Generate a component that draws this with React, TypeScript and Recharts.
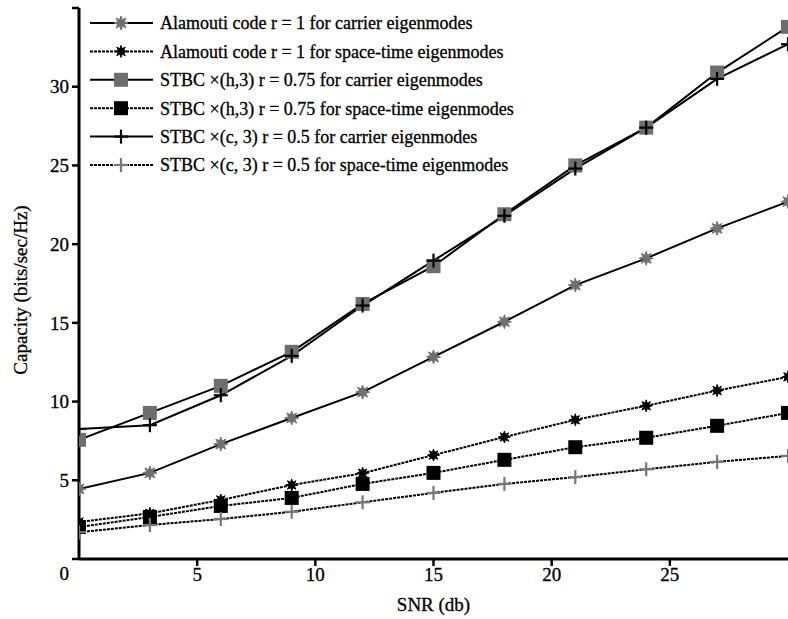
import React from 'react';
import { LineChart, Line, XAxis, YAxis, Legend } from 'recharts';

const snr = [0, 3, 6, 9, 12, 15, 18, 21, 24, 27, 30];
const alamoutiCarrier = [4.45, 5.47, 7.3, 8.96, 10.6, 12.84, 15.07, 17.4, 19.1, 21.0, 22.7];
const alamoutiST = [2.35, 2.9, 3.75, 4.7, 5.45, 6.6, 7.75, 8.84, 9.73, 10.7, 11.57];
const stbcHCarrier = [7.57, 9.28, 11.0, 13.16, 16.2, 18.6, 21.9, 25.0, 27.4, 30.9, 33.8];
const stbcHST = [2.03, 2.67, 3.37, 3.88, 4.77, 5.47, 6.3, 7.1, 7.7, 8.46, 9.28];
const stbcCCarrier = [8.26, 8.5, 10.4, 12.9, 16.1, 18.95, 21.8, 24.8, 27.4, 30.5, 32.7];
const stbcCST = [1.7, 2.16, 2.54, 3.0, 3.6, 4.2, 4.77, 5.2, 5.7, 6.17, 6.55];

const yTicks = [0, 5, 10, 15, 20, 25, 30, 35];
const xTicks = [5, 10, 15, 20, 25];

const legendLabels = [
  'Alamouti code r = 1 for carrier eigenmodes',
  'Alamouti code r = 1 for space-time eigenmodes',
  'STBC \u00d7(h,3) r = 0.75 for carrier eigenmodes',
  'STBC \u00d7(h,3) r = 0.75 for space-time eigenmodes',
  'STBC \u00d7(c, 3) r = 0.5 for carrier eigenmodes',
  'STBC \u00d7(c, 3) r = 0.5 for space-time eigenmodes',
];

const data = snr.map((s, i) => ({
  snr: s,
  a: alamoutiCarrier[i],
  b: alamoutiST[i],
  c: stbcHCarrier[i],
  d: stbcHST[i],
  e: stbcCCarrier[i],
  f: stbcCST[i],
}));

const FONT = '"Liberation Serif", "Times New Roman", serif';
const TXT = { fontFamily: FONT, fill: '#000', stroke: '#000', strokeWidth: 0.3 };

type MarkerKind = 'star' | 'square' | 'plus';

function starPoints(cx: number, cy: number, ro: number, ri: number) {
  const pts: string[] = [];
  for (let k = 0; k < 16; k++) {
    const r = k % 2 === 0 ? ro : ri;
    const ang = (Math.PI / 8) * k - Math.PI / 2;
    pts.push(`${cx + r * Math.cos(ang)},${cy + r * Math.sin(ang)}`);
  }
  return pts.join(' ');
}

function Marker({ cx, cy, kind, color, size }: { cx: number; cy: number; kind: MarkerKind; color: string; size: number }) {
  if (kind === 'star') {
    return <polygon points={starPoints(cx, cy, size / 2, size / 4.2)} fill={color} stroke={color} strokeWidth={1} />;
  }
  if (kind === 'square') {
    return <rect x={cx - size / 2} y={cy - size / 2} width={size} height={size} fill={color} />;
  }
  return (
    <g stroke={color} strokeWidth={2.2}>
      <line x1={cx - size / 2} y1={cy} x2={cx + size / 2} y2={cy} />
      <line x1={cx} y1={cy - size / 2} x2={cx} y2={cy + size / 2} />
    </g>
  );
}

const series = [
  { key: 'a', kind: 'star' as MarkerKind, color: '#707070', size: 14, dash: undefined as string | undefined },
  { key: 'b', kind: 'star' as MarkerKind, color: '#000000', size: 12, dash: '3 1' },
  { key: 'c', kind: 'square' as MarkerKind, color: '#6e6e6e', size: 14, dash: undefined },
  { key: 'd', kind: 'square' as MarkerKind, color: '#000000', size: 14, dash: '3 1' },
  { key: 'e', kind: 'plus' as MarkerKind, color: '#000000', size: 14, dash: undefined },
  { key: 'f', kind: 'plus' as MarkerKind, color: '#777777', size: 14, dash: '3 1' },
];

const makeDot = (kind: MarkerKind, color: string, size: number) => (props: any) => {
  const { cx, cy, index } = props;
  if (cx == null || cy == null) return <g key={index} />;
  return (
    <g key={index}>
      <Marker cx={cx} cy={cy} kind={kind} color={color} size={size} />
    </g>
  );
};

const LegendBox = () => (
  <svg width={520} height={180} style={{ display: 'block' }}>
    {series.map((s, i) => {
      const y = 15 + i * 28.4;
      return (
        <g key={s.key}>
          <line x1={5} y1={y} x2={68} y2={y} stroke="#000" strokeWidth={2} strokeDasharray={s.dash} />
          <Marker cx={36} cy={y} kind={s.kind} color={s.color} size={s.size} />
          <text x={75} y={y} dy="0.35em" fontSize={18} {...TXT}>
            {legendLabels[i]}
          </text>
        </g>
      );
    })}
  </svg>
);

const YTick = (props: any) => {
  const { x, y, payload } = props;
  if (payload.value === 35) return <g />;
  const shift = payload.value === 0 ? 14 : 0;
  return (
    <text x={x} y={y + shift} dy="0.35em" textAnchor="end" fontSize={19} {...TXT}>
      {payload.value}
    </text>
  );
};

const YLabel = () => (
  <text x={20} y={290} transform="rotate(-90 20 290)" textAnchor="middle" dominantBaseline="central" fontSize={19} {...TXT}>
    Capacity (bits/sec/Hz)
  </text>
);

export default function App() {
  return (
    <div style={{ position: 'absolute', left: 0, top: 0, width: 788, height: 619, background: '#fff' }}>
      <LineChart width={788} height={619} data={data} margin={{ top: 8, right: 0, left: 0, bottom: 30 }}>
        <XAxis
          dataKey="snr"
          type="number"
          domain={[0, 30]}
          ticks={xTicks}
          interval={0}
          allowDataOverflow
          stroke="#000"
          strokeWidth={3}
          tickSize={7}
          tickLine={{ stroke: '#000', strokeWidth: 2.5 }}
          tick={{ ...TXT, fontSize: 19 }}
          height={30}
          label={{ value: 'SNR (db)', position: 'insideBottom', offset: -22, fontSize: 19, ...TXT }}
        />
        <YAxis
          type="number"
          domain={[0, 35]}
          ticks={yTicks}
          interval={0}
          allowDataOverflow
          width={79}
          stroke="#000"
          strokeWidth={3}
          tickSize={7}
          tickMargin={3}
          tickLine={{ stroke: '#000', strokeWidth: 2.5 }}
          tick={<YTick />}
          label={<YLabel />}
        />
        <Legend
          layout="vertical"
          align="center"
          verticalAlign="middle"
          wrapperStyle={{ left: 85, top: 8, width: 520, height: 180 }}
          content={() => <LegendBox />}
        />
        {series.map((s) => (
          <Line
            key={s.key}
            dataKey={s.key}
            type="linear"
            stroke="#000"
            strokeWidth={2}
            strokeDasharray={s.dash}
            dot={makeDot(s.kind, s.color, s.size)}
            activeDot={false}
            isAnimationActive={false}
          />
        ))}
      </LineChart>
    </div>
  );
}
